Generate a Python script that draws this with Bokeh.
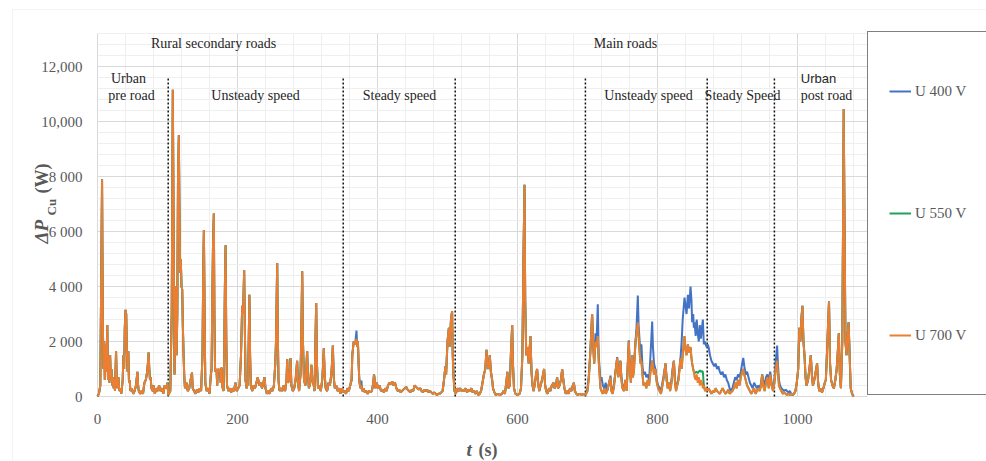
import math

from bokeh.embed import file_html
from bokeh.models import BoxAnnotation, FixedTicker, Label, Legend, LegendItem, Range1d
from bokeh.plotting import figure
from bokeh.resources import INLINE

# ---------------------------------------------------------------------------
# Copper losses ΔP_Cu (W) over the drive cycle, U = 700 V, split by road segment
# ---------------------------------------------------------------------------
t_urban_pre = [0, 2, 4, 6.5, 7.5, 8.5, 9.5, 10.5, 11.5, 12.5, 14, 15, 16, 17, 18, 19, 20, 21,
               22, 23, 24, 25, 26.5, 27.5, 28.5, 30, 31, 33, 34, 36, 37, 38, 39, 40, 41, 42,
               43, 44, 45, 46, 47, 49, 51, 53, 55, 57, 58, 59, 61, 63, 65, 67, 69, 71, 72,
               73, 74, 75, 76, 77, 79, 80, 82, 84, 86, 88, 90, 92, 94, 96, 98, 100]
p_urban_pre = [0, 100, 400, 7900, 3000, 1000, 2000, 600, 1900, 900, 2600, 600, 1500, 500, 1500,
               700, 1000, 400, 700, 300, 600, 200, 1650, 600, 300, 700, 200, 300, 100, 600,
               1500, 1000, 2500, 3150, 3000, 1600, 900, 1650, 500, 600, 200, 300, 100, 200,
               400, 900, 400, 200, 100, 200, 100, 500, 600, 900, 1200, 1600, 1000, 600, 700,
               300, 200, 400, 100, 300, 200, 400, 200, 300, 100, 400, 300, 500]

t_rural_unsteady = [101, 104, 106, 107.6, 109, 110, 111, 112, 113, 114, 115, 116.2, 117, 118,
                    119, 120, 121, 122, 123, 124, 125, 127, 129, 131, 133, 135, 136, 138, 140,
                    142, 144, 146, 148, 150, 151, 152, 153, 154, 156, 158, 160, 162, 163, 164,
                    165, 166.2, 167, 168, 170, 171, 172, 174, 175, 176, 177, 178, 180, 181, 182,
                    183, 184, 185, 187, 189, 191, 193, 195, 197, 199, 201, 203, 205, 206.7, 208,
                    209.5, 210.5, 211.5, 213, 215, 216, 217, 218, 219, 221, 223, 225, 227, 229,
                    231, 233, 235, 237, 238.6, 240, 242, 244, 246, 248, 250, 252, 254, 255,
                    256.7, 257.5, 258.5, 260, 262, 264, 266, 268, 270, 271, 272, 274, 275.7,
                    277, 279, 281, 283, 285.2, 286.5, 288, 290, 291, 292.4, 293.5, 295, 297,
                    298, 299.5, 300.5, 302, 304, 305.5, 307, 309, 310, 311, 312.4, 313.5, 315,
                    317, 319, 321, 322, 323.3, 324.5, 326, 328, 330, 332, 334, 335, 336.2,
                    337.5, 339, 341, 343, 345, 347, 349]
p_rural_unsteady = [50, 200, 3000, 11150, 5000, 800, 2500, 4000, 1500, 3000, 8000, 9500, 7000,
                    4500, 5000, 4000, 3900, 2500, 1500, 700, 300, 500, 200, 300, 600, 870, 300,
                    200, 100, 250, 150, 300, 200, 1500, 4500, 6050, 3000, 500, 200, 300, 100,
                    800, 1000, 3500, 5500, 6650, 3000, 900, 1000, 400, 1000, 900, 1000, 500,
                    1050, 400, 200, 1500, 4000, 5500, 2000, 400, 200, 300, 150, 300, 200, 500,
                    200, 300, 400, 1500, 3300, 3000, 4600, 2500, 600, 300, 500, 2000, 3700,
                    1500, 400, 200, 400, 300, 500, 700, 400, 500, 300, 500, 700, 300, 100, 200,
                    100, 300, 200, 400, 1200, 2000, 4850, 2500, 600, 200, 300, 200, 400, 200,
                    600, 1350, 500, 600, 1400, 400, 200, 300, 600, 1300, 500, 200, 800, 2000,
                    4550, 2000, 600, 400, 900, 1650, 800, 300, 500, 1150, 600, 400, 200, 1500,
                    3400, 1200, 300, 400, 200, 600, 1000, 1750, 800, 300, 200, 500, 400, 800,
                    1200, 1850, 700, 300, 400, 200, 300, 100, 300]

t_rural_steady = [351, 353, 355, 357, 359, 361, 363, 364, 366, 368, 370, 371, 372, 373, 374,
                  375, 376, 377, 378, 380, 382, 384, 386, 388, 390, 392, 394, 395, 396, 397,
                  399, 401, 403, 405, 407, 409, 411, 413, 415, 417, 419, 421, 423, 425, 427,
                  429, 431, 433, 435, 437, 439, 441, 443, 445, 447, 449, 451, 453, 455, 457,
                  459, 461, 463, 465, 467, 469, 471, 473, 475, 477, 479, 481, 483, 485, 487,
                  489, 491, 493, 495, 497, 498, 500, 502, 503, 505, 506.6, 507.5, 508.5, 510]
p_rural_steady = [150, 200, 100, 300, 200, 400, 600, 1500, 2000, 1900, 2100, 1800, 2000, 1200,
                  600, 400, 300, 400, 200, 300, 150, 200, 100, 200, 150, 200, 500, 800, 600,
                  300, 500, 300, 400, 200, 250, 150, 300, 200, 400, 500, 450, 550, 400, 500,
                  300, 200, 250, 150, 200, 250, 300, 350, 250, 200, 150, 250, 200, 400, 350,
                  300, 250, 300, 200, 150, 250, 200, 250, 150, 200, 150, 100, 150, 100, 50,
                  100, 100, 150, 200, 600, 1100, 800, 2000, 2500, 1800, 2800, 3100, 1500, 800,
                  200]

t_main_mixed = [512, 514, 516, 518, 520, 522, 524, 526, 528, 530, 532, 534, 536, 538, 540, 542,
                544, 546, 548, 550, 552, 554, 555.7, 557, 558.5, 560.4, 562, 563.8, 565, 567,
                569, 572, 575, 578, 580, 582, 584, 585.5, 587, 589, 590.5, 592.4, 593.5, 595,
                597, 600, 603, 605, 607, 608.5, 610, 611, 612.5, 614.5, 616, 618.5, 620,
                621.5, 623, 625, 626.5, 628, 629.5, 631, 633, 635, 636.5, 638, 639.5, 641,
                643, 645, 647, 649, 651.5, 653, 655, 656.6, 658, 660, 662, 663.8, 665.5, 667,
                669, 671, 673, 675, 677, 679, 680.5, 682, 684, 686, 689, 692, 695]
p_main_mixed = [100, 300, 200, 300, 200, 250, 200, 300, 150, 250, 200, 300, 150, 200, 100, 200,
                50, 100, 200, 500, 800, 1000, 1700, 1200, 1000, 1500, 900, 600, 300, 150, 50,
                100, 50, 100, 200, 100, 500, 900, 300, 400, 1500, 2600, 1200, 300, 100, 50, 100,
                300, 1500, 5000, 7700, 3500, 1500, 1800, 1200, 2200, 900, 400, 200, 500, 800,
                1000, 500, 200, 400, 600, 800, 1000, 400, 200, 100, 300, 200, 400, 500, 300,
                400, 700, 300, 400, 600, 1000, 600, 300, 100, 200, 100, 300, 200, 400, 500,
                200, 100, 50, 100, 50, 100]

t_main_unsteady = [697, 700, 702, 704, 706.6, 708, 709.5, 711.4, 713, 714.7, 716, 718.5, 720,
                   722, 724, 726, 728, 730, 732.9, 734, 736, 738, 740, 742.4, 744, 745.5, 747,
                   748.5, 750, 752, 754.3, 756, 757.5, 759, 760.5, 762, 763.8, 765, 766.5,
                   768.6, 770, 771.9, 773, 774.5, 775.7, 777, 778.5, 780, 782, 784, 786, 788,
                   790, 792.4, 793.5, 795, 797, 799, 801, 803, 805, 807, 809, 811.5, 813, 814.5,
                   816, 818, 820, 821.5, 823.4, 825, 826.5, 828, 830, 832.9, 834.5, 836, 838.6,
                   840, 841.5, 843.4, 845, 847.2, 848.5, 849.5, 851, 851.9, 853, 854.5, 856,
                   857.5, 859, 860.5, 862, 863.5, 864.8, 866.2, 868, 870]
p_main_unsteady = [50, 200, 700, 1600, 3000, 2000, 1200, 2000, 1800, 2200, 1300, 300, 200, 100,
                   300, 100, 200, 400, 700, 200, 100, 400, 900, 1400, 700, 900, 1300, 600, 300,
                   200, 600, 200, 1100, 2000, 900, 500, 1500, 700, 1000, 2000, 2300, 2700, 2200,
                   1600, 1200, 1300, 800, 400, 500, 300, 600, 400, 900, 1300, 1100, 800, 1000,
                   500, 300, 200, 100, 400, 700, 1200, 600, 300, 500, 200, 500, 900, 1300, 500,
                   200, 400, 600, 1400, 1000, 1500, 2200, 1700, 1500, 1900, 1600, 1800, 1400,
                   1200, 1000, 900, 700, 600, 800, 500, 700, 400, 600, 500, 300, 400, 200, 300]

t_main_steady = [871.5, 873, 875, 877, 879, 881, 883, 885, 887, 889, 891, 893, 895, 897, 899,
                 901, 903, 905, 907, 909, 911, 913, 915, 917, 919, 921, 922.5, 924, 926, 928,
                 930, 932, 934, 936, 938, 940, 942, 944, 946, 948, 949.5, 951, 953, 955, 957,
                 959, 961, 963, 965]
p_main_steady = [200, 300, 200, 100, 200, 150, 300, 200, 150, 100, 200, 300, 200, 100, 150, 250,
                 100, 150, 200, 300, 500, 300, 600, 400, 700, 900, 1000, 800, 600, 400, 300,
                 200, 100, 200, 300, 100, 200, 300, 200, 400, 800, 400, 200, 500, 700, 300,
                 800, 400, 200]

t_urban_post = [967, 969, 970.9, 972, 973.5, 975, 977, 979, 981, 983, 985, 987, 989, 991, 993,
                995, 997, 999, 1001, 1002.5, 1004, 1005.5, 1007, 1008.5, 1010, 1011.5, 1013,
                1015, 1017, 1019, 1020.5, 1022, 1024, 1026, 1028, 1029.5, 1031, 1033, 1035,
                1037, 1039, 1040.5, 1042, 1043.5, 1045, 1046.5, 1048, 1050, 1052, 1054, 1056,
                1057.5, 1059, 1060.5, 1062, 1064, 1065, 1066, 1067, 1068.5, 1070, 1071.5, 1073,
                1074.5, 1076, 1078, 1080]
p_urban_post = [500, 1000, 1300, 900, 400, 300, 200, 100, 150, 100, 50, 100, 50, 100, 50, 100,
                200, 500, 1000, 2500, 2000, 2800, 3300, 2000, 1500, 700, 400, 600, 1000, 1500,
                800, 400, 600, 900, 1200, 500, 200, 300, 150, 300, 500, 600, 1500, 2500, 3450,
                1200, 600, 400, 300, 600, 1000, 1600, 2300, 800, 300, 2000, 6000, 10450, 7000,
                2000, 1500, 2200, 2700, 1500, 300, 100, 0]

# U = 400 V runs hotter on the main roads; elsewhere it follows the 700 V trace
t_400_steady = [370, 377]
p_400_steady = [2400, 580]

t_400_main = [697, 700, 702, 704, 706.6, 708, 709.5, 711.4, 713, 714.7, 716, 718.5, 720, 722,
              724, 726, 728, 730, 732.9, 734, 736, 738, 740, 742.4, 744, 745.5, 747, 748.5,
              750, 752, 754.3, 756, 757.5, 759, 760.5, 762, 763.8, 765, 766.5, 768.6, 770,
              771.9, 773, 774.5, 775.7, 777, 778.5, 780, 782, 784, 786, 788, 790, 792.4, 793.5,
              795, 797, 799, 801, 803, 805, 807, 809, 811.5, 813, 814.5, 816, 818, 820, 821.5,
              823.4, 825, 826.5, 828, 830, 832.9, 834.5, 836, 838.6, 840, 841.5, 843.4, 845,
              847.2, 848.5, 849.5, 851, 851.9, 853, 854.5, 856, 857.5, 859, 860.5, 862, 863.5,
              864.8, 866.2, 868, 870, 871.5, 873, 875, 877, 879, 881, 883, 885, 887, 889, 891,
              893, 895, 897, 899, 901, 903, 905, 907, 909, 911, 913, 915, 917, 919, 921, 922.5,
              924, 926, 928, 930, 932, 934, 936, 938, 940, 942, 944, 946, 948, 949.5, 951, 953,
              955, 957, 959, 961, 963, 965, 967, 969, 970.9, 972, 973.5, 975, 977, 979, 981,
              983, 985, 987, 989, 991, 993]
p_400_main = [50, 300, 800, 1600, 3000, 2000, 1200, 2300, 2000, 3350, 1500, 600, 700, 400, 300,
              500, 200, 400, 760, 300, 200, 500, 900, 1430, 800, 1000, 1300, 700, 400, 300, 600,
              300, 1200, 2040, 1000, 700, 1500, 800, 1200, 2000, 2500, 3670, 2600, 2000, 1500,
              1900, 1100, 800, 900, 700, 800, 600, 1500, 2730, 1800, 1200, 1000, 600, 400, 300,
              200, 500, 800, 1200, 700, 400, 500, 300, 600, 1000, 1300, 600, 300, 400, 700,
              1400, 2000, 2800, 3600, 3300, 3000, 3700, 3200, 4000, 3500, 2700, 3000, 2500,
              2700, 2200, 2800, 2300, 2000, 2600, 2100, 2500, 2800, 1900, 2000, 1800, 1900,
              1800, 1500, 1300, 1200, 1100, 1200, 1000, 1100, 900, 800, 900, 700, 800, 600,
              500, 300, 200, 300, 500, 700, 600, 800, 700, 900, 1200, 1400, 1100, 800, 900,
              700, 500, 400, 300, 500, 400, 300, 400, 300, 500, 800, 600, 400, 700, 800, 600,
              900, 500, 300, 600, 1300, 1850, 1200, 600, 400, 300, 250, 200, 250, 200, 150,
              200, 100, 50]

# U = 550 V sits between the other two and only shows above 700 V here
t_550_main = [853, 854.5, 856, 857.5, 859, 860.5, 862, 863.5, 864.8]
p_550_main = [850, 880, 900, 850, 900, 950, 900, 920, 900]

# Section markers (s), legend names and axis ticks
section_bounds = [101, 351, 511, 697, 871, 967]
series_names = ["U 400 V", "U 550 V", "U 700 V"]
series_colors = ["#4472C4", "#1FA35A", "#ED7D31"]
y_tick_values = [0, 2000, 4000, 6000, 8000, 10000, 12000]
y_tick_texts = ["0", "2 000", "4 000", "6 000", "8 000", "10,000", "12,000"]
x_tick_values = [0, 200, 400, 600, 800, 1000]

# ---------------------------------------------------------------------------
# Assemble full traces
# ---------------------------------------------------------------------------
t700 = (t_urban_pre + t_rural_unsteady + t_rural_steady + t_main_mixed
        + t_main_unsteady + t_main_steady + t_urban_post)
p700 = (p_urban_pre + p_rural_unsteady + p_rural_steady + p_main_mixed
        + p_main_unsteady + p_main_steady + p_urban_post)

steady_override = dict(zip(t_400_steady, p_400_steady))
t400, p400 = [], []
for t, v in zip(t700, p700):
    if t < t_400_main[0]:
        t400.append(t)
        p400.append(steady_override.get(t, v))
t400 += t_400_main
p400 += p_400_main
for t, v in zip(t700, p700):
    if t > t_400_main[-1]:
        t400.append(t)
        p400.append(v)

main_override = dict(zip(t_550_main, p_550_main))
t550 = list(t700)
p550 = [main_override.get(t, v) for t, v in zip(t700, p700)]

# ---------------------------------------------------------------------------
# Canvas geometry: the frame fills the page, the plot area sits inside it
# ---------------------------------------------------------------------------
W, H = 986, 461
ORIGIN_X, ORIGIN_Y = 97, 396          # pixel position of (0 s, 0 W)
PX_PER_S = 0.7
PX_PER_W = 55 / 2000
T_MAX, P_MAX = 1100, 13200            # extent of the plot area


def sx(px):
    return (px - ORIGIN_X) / PX_PER_S


def sy(py):
    return (ORIGIN_Y - py) / PX_PER_W


SERIF = "Liberation Serif"
GREY = "#595959"

p = figure(width=W, height=H, output_backend="svg", toolbar_location=None,
           x_range=Range1d(sx(0), sx(W)), y_range=Range1d(sy(H), sy(0)),
           min_border=0, background_fill_color="white", border_fill_color="white")
p.outline_line_color = None

# axes pinned at the origin of the plot area
p.xaxis.fixed_location = 0
p.yaxis.fixed_location = 0
p.xaxis.bounds = (0, T_MAX)
p.yaxis.bounds = (0, P_MAX)
p.xaxis.ticker = FixedTicker(ticks=x_tick_values, minor_ticks=list(range(0, T_MAX + 1, 40)))
p.yaxis.ticker = FixedTicker(ticks=y_tick_values, minor_ticks=list(range(0, P_MAX + 1, 400)))
p.yaxis.major_label_overrides = dict(zip(y_tick_values, y_tick_texts))
for ax in (p.xaxis, p.yaxis):
    ax.axis_line_color = None
    ax.major_tick_line_color = None
    ax.minor_tick_line_color = None
    ax.major_tick_out = 0
    ax.major_label_text_font = SERIF
    ax.major_label_text_font_size = "15px"
    ax.major_label_text_color = GREY
p.yaxis.major_label_standoff = 11
p.xaxis.major_label_standoff = 13

p.grid.grid_line_color = "#d9d9d9"
p.grid.minor_grid_line_color = "#efefef"
p.xgrid.bounds = (0, T_MAX)
p.ygrid.bounds = (0, P_MAX)
try:
    p.xgrid.cross_bounds = (0, P_MAX)
    p.ygrid.cross_bounds = (0, T_MAX)
except AttributeError:
    pass

# light chart-area border
p.add_layout(BoxAnnotation(left=sx(12), right=sx(W + 20), top=sy(9), bottom=sy(H + 20),
                           fill_alpha=0, line_color="#d9d9d9", line_width=1, level="underlay"))

# section dividers
for b in section_bounds:
    p.line([b, b], [0, 11600], line_color="#111111", line_width=1.5, line_dash="2 2")

r400 = p.line(t400, p400, line_color=series_colors[0], line_width=2)
r550 = p.line(t550, p550, line_color=series_colors[1], line_width=2)
r700 = p.line(t700, p700, line_color=series_colors[2], line_width=2)

legend = Legend(items=[LegendItem(label=n, renderers=[r]) for n, r in
                       zip(series_names, [r400, r550, r700])],
                location=(867, H - 33 - 362), orientation="vertical",
                border_line_color="#000000", border_line_width=1,
                background_fill_color="white", background_fill_alpha=1,
                padding=21, margin=0, spacing=46,
                glyph_width=22, glyph_height=76, label_height=76, label_standoff=4,
                label_text_font=SERIF, label_text_font_size="15px",
                label_text_color=GREY)
p.add_layout(legend)


def note(px, py, text, size="14px", font=SERIF, style="normal", align="center",
         baseline="middle", angle=0, color="#262626"):
    p.add_layout(Label(x=sx(px), y=sy(py), text=text, text_font=font, text_font_size=size,
                       text_font_style=style, text_align=align, text_baseline=baseline,
                       angle=angle, text_color=color))


# road-type headings and driving-style notes
note(213, 43, "Rural secondary roads")
note(625, 43, "Main roads")
note(128, 78, "Urban")
note(131, 95, "pre road")
note(255, 95, "Unsteady speed")
note(399, 95, "Steady speed")
note(648, 95, "Unsteady speed")
note(742, 95, "Steady Speed")
note(818, 78, "Urban", size="13px", font="Liberation Sans")
note(826, 95, "post road")

# axis titles
note(466, 449, "t", size="19px", style="bold italic", align="left", baseline="alphabetic",
     color=GREY)
note(478, 449, "(s)", size="18px", style="bold", align="left", baseline="alphabetic",
     color=GREY)
note(41, 243, "ΔP", size="19px", style="bold italic", align="left", angle=math.pi / 2,
     color=GREY)
note(51, 215, "Cu", size="13px", style="bold", align="left", angle=math.pi / 2, color=GREY)
note(41, 193, "(W)", size="18px", style="bold", align="left", angle=math.pi / 2, color=GREY)

open("out.html", "w").write(file_html(p, INLINE))
